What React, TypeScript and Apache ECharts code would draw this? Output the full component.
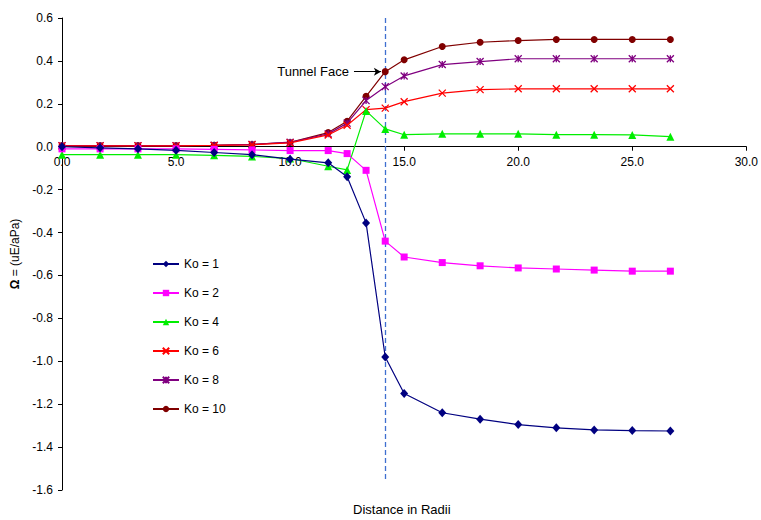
import React, { useEffect, useRef } from "react";
import * as echarts from "echarts";

// Distance from the tunnel face position, in radii
const distance = [0, 1.67, 3.33, 5.0, 6.67, 8.33, 10.0, 11.67, 12.5, 13.33, 14.17, 15.0, 16.67, 18.33, 20.0, 21.67, 23.33, 25.0, 26.67];

// Ω values for each Ko
const ko1 = [0.0, -0.005, -0.01, -0.017, -0.027, -0.037, -0.058, -0.075, -0.14, -0.355, -0.98, -1.15, -1.24, -1.27, -1.295, -1.31, -1.32, -1.323, -1.325];
const ko2 = [-0.01, -0.01, -0.01, -0.01, -0.012, -0.015, -0.018, -0.018, -0.032, -0.11, -0.44, -0.514, -0.54, -0.555, -0.565, -0.57, -0.575, -0.58, -0.58];
const ko4 = [-0.037, -0.037, -0.037, -0.037, -0.04, -0.045, -0.055, -0.091, -0.108, 0.167, 0.083, 0.056, 0.06, 0.06, 0.06, 0.056, 0.056, 0.055, 0.047];
const ko6 = [0.004, 0.004, 0.004, 0.004, 0.006, 0.009, 0.018, 0.055, 0.1, 0.173, 0.18, 0.21, 0.25, 0.266, 0.27, 0.27, 0.27, 0.27, 0.27];
const ko8 = [0.005, 0.005, 0.005, 0.005, 0.007, 0.011, 0.021, 0.06, 0.11, 0.215, 0.28, 0.33, 0.383, 0.397, 0.41, 0.41, 0.41, 0.41, 0.41];
const ko10 = [0.005, 0.005, 0.005, 0.005, 0.007, 0.01, 0.02, 0.066, 0.119, 0.235, 0.35, 0.405, 0.467, 0.487, 0.495, 0.5, 0.5, 0.5, 0.5];

const seriesNames = ["Ko = 1", "Ko = 2", "Ko = 4", "Ko = 6", "Ko = 8", "Ko = 10"];
const seriesValues = [ko1, ko2, ko4, ko6, ko8, ko10];
const seriesColors = ["#000080", "#FF00FF", "#00EE00", "#FF0000", "#800080", "#800000"];

// Tunnel face location and the annotation arrow
const tunnelFaceX = 14.17;
const arrowStartX = 12.8;
const arrowEndX = 13.98;
const arrowY = 0.35;

const FONT = "Liberation Sans, Arial, sans-serif";
const FACE_COLOR = "#3f6fd0";

const crossSymbol = "path://M0,0L10,10M10,0L0,10";
const starSymbol = "path://M0,0L10,10M10,0L0,10M5,0L5,10";

const symbolFor = (i: number) => {
  switch (i) {
    case 0:
      return { symbol: "diamond", symbolSize: [8, 9] as any, stroke: false };
    case 1:
      return { symbol: "rect", symbolSize: 7, stroke: false };
    case 2:
      return { symbol: "triangle", symbolSize: 8, stroke: false };
    case 3:
      return { symbol: crossSymbol, symbolSize: 7, stroke: true };
    case 4:
      return { symbol: starSymbol, symbolSize: 7, stroke: true };
    default:
      return { symbol: "circle", symbolSize: 7, stroke: false };
  }
};

const fmt = (v: number) => (Math.abs(v) < 1e-9 ? "0.0" : v.toFixed(1));

const GRID_TOP = 18;
const GRID_BOTTOM = 30;
const HEIGHT = 520;

export default function App() {
  const ref = useRef<HTMLDivElement>(null);

  useEffect(() => {
    document.body.style.margin = "0";
    if (!ref.current) return;
    const chart = echarts.init(ref.current, null, { renderer: "svg" });

    const series: any[] = seriesNames.map((name, i) => {
      const s = symbolFor(i);
      const color = seriesColors[i];
      return {
        name,
        type: "line",
        data: distance.map((d, j) => [d, seriesValues[i][j]]),
        symbol: s.symbol,
        symbolSize: s.symbolSize,
        showAllSymbol: true,
        lineStyle: { color, width: 1.2 },
        itemStyle: s.stroke
          ? { color, borderColor: color, borderWidth: 1.3 }
          : { color, borderWidth: 0 },
        emphasis: { disabled: true },
        z: 10 - i,
      };
    });

    // Dashed vertical line at the tunnel face
    series.push({
      name: "face",
      type: "line",
      data: [],
      silent: true,
      color: FACE_COLOR,
      itemStyle: { color: FACE_COLOR },
      lineStyle: { color: FACE_COLOR },
      markLine: {
        silent: true,
        animation: false,
        symbol: ["none", "none"],
        lineStyle: { color: FACE_COLOR, width: 1.3, type: [5, 3], opacity: 1 },
        itemStyle: { color: FACE_COLOR },
        label: { show: false },
        emphasis: { disabled: true },
        data: [[{ coord: [tunnelFaceX, 0.6] }, { coord: [tunnelFaceX, -1.55] }]],
      },
    });

    // Labelled arrow pointing at the tunnel face
    series.push({
      name: "arrow",
      type: "line",
      data: [],
      silent: true,
      color: "#000000",
      markLine: {
        silent: true,
        animation: false,
        symbol: ["none", "arrow"],
        symbolSize: [6, 7],
        lineStyle: { color: "#000000", width: 1, type: "solid" },
        itemStyle: { color: "#000000" },
        emphasis: { disabled: true },
        label: {
          show: true,
          position: "start",
          formatter: "Tunnel Face",
          color: "#000",
          fontFamily: FONT,
          fontSize: 13,
          distance: 5,
        },
        data: [[{ coord: [arrowStartX, arrowY] }, { coord: [arrowEndX, arrowY] }]],
      },
    });

    chart.setOption({
      animation: false,
      backgroundColor: "#ffffff",
      textStyle: { fontFamily: FONT },
      grid: { left: 62, right: 13, top: GRID_TOP, bottom: GRID_BOTTOM, containLabel: false },
      legend: {
        data: seriesNames,
        orient: "vertical",
        left: 147,
        top: 253,
        itemWidth: 26,
        itemHeight: 8,
        itemGap: 17,
        textStyle: { fontFamily: FONT, fontSize: 12, color: "#000" },
        selectedMode: false,
      },
      xAxis: {
        type: "value",
        min: 0,
        max: 30,
        interval: 5,
        offset: 0,
        axisLine: { onZero: false, lineStyle: { color: "#000", width: 1 } },
        axisTick: { show: true, length: 4, lineStyle: { color: "#000" } },
        axisLabel: { formatter: fmt, color: "#000", fontFamily: FONT, fontSize: 12, margin: 9 },
        splitLine: { show: false },
      },
      yAxis: {
        type: "value",
        min: -1.6,
        max: 0.6,
        interval: 0.2,
        name: "{b|Ω} = (uE/aPa)",
        nameLocation: "middle",
        nameRotate: 90,
        nameGap: 38,
        nameTextStyle: {
          fontFamily: FONT,
          fontSize: 12,
          color: "#000",
          rich: { b: { fontWeight: "bold", fontFamily: FONT, fontSize: 12, color: "#000" } },
        },
        axisLine: { show: true, onZero: false, lineStyle: { color: "#000", width: 1 } },
        axisTick: { show: true, length: 4, lineStyle: { color: "#000" } },
        axisLabel: { formatter: fmt, color: "#000", fontFamily: FONT, fontSize: 12, margin: 9 },
        splitLine: { show: false },
      },
      graphic: [
        {
          type: "text",
          left: 353,
          top: 503,
          style: { text: "Distance in Radii", fill: "#000", font: `13px ${FONT}` },
        },
      ],
      series,
    });

    // Lift the x axis (line, ticks and labels) up to the y = 0 level
    const zeroY = chart.convertToPixel({ yAxisIndex: 0 }, 0) as number;
    const bottomY = HEIGHT - GRID_BOTTOM;
    chart.setOption({ xAxis: { offset: -(bottomY - zeroY) } });

    return () => chart.dispose();
  }, []);

  return (
    <div
      ref={ref}
      style={{ position: "fixed", left: 0, top: 0, width: 761, height: HEIGHT }}
    />
  );
}
